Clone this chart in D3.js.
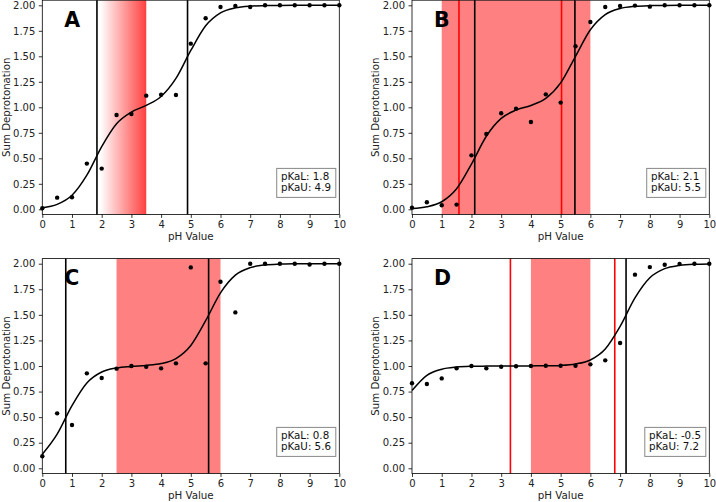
<!DOCTYPE html>
<html>
<head>
<meta charset="utf-8">
<script src="https://cdn.jsdelivr.net/npm/d3@7"></script>
<style>
  html, body { margin: 0; padding: 0; background: #fff; }
  svg { display: block; font-family: "DejaVu Sans", sans-serif; }
</style>
</head>
<body>
<svg id="chart" width="716" height="502"></svg>
<script>
// ---------- data ----------
const pH = [0, 0.5, 1, 1.5, 2, 2.5, 3, 3.5, 4, 4.5, 5, 5.5, 6, 6.5, 7, 7.5, 8, 8.5, 9, 9.5, 10];
const xTicks = [0, 1, 2, 3, 4, 5, 6, 7, 8, 9, 10];
const yTicks = [0, 0.25, 0.5, 0.75, 1.0, 1.25, 1.5, 1.75, 2.0];

const panelLabels = ["A", "B", "C", "D"];

// measured points (Sum Deprotonation)
const pointsA = [0.01, 0.114, 0.118, 0.448, 0.399, 0.925, 0.935, 1.114, 1.124, 1.121, 1.624, 1.873, 1.984, 1.993, 1.984, 2.0, 2.0, 2.0, 2.0, 2.0, 2.0];
const pointsB = [0.016, 0.069, 0.039, 0.046, 0.529, 0.739, 0.941, 0.987, 0.856, 1.127, 1.046, 1.598, 1.837, 1.984, 1.993, 1.997, 1.987, 2.0, 2.0, 2.0, 2.0];
const pointsC = [0.117, 0.537, 0.423, 0.928, 0.883, 0.974, 1.0, 0.993, 0.977, 1.026, 1.964, 1.026, 1.824, 1.524, 2.0, 2.0, 2.0, 2.0, 1.993, 2.0, 2.0];
const pointsD = [0.831, 0.824, 0.879, 0.977, 1.0, 0.977, 0.993, 0.997, 1.0, 1.003, 1.003, 1.003, 1.016, 1.055, 1.225, 1.893, 1.967, 1.99, 1.997, 2.0, 2.0];

// fitted curves read at the same pH values
const fitA = [0.016, 0.048, 0.137, 0.334, 0.614, 0.838, 0.953, 1.019, 1.106, 1.283, 1.557, 1.799, 1.926, 1.975, 1.992, 1.997, 1.999, 2.0, 2.0, 2.0, 2.0];
const fitB = [0.008, 0.025, 0.074, 0.201, 0.443, 0.716, 0.891, 0.972, 1.018, 1.087, 1.239, 1.5, 1.76, 1.909, 1.969, 1.99, 1.997, 1.999, 2.0, 2.0, 2.0];
const fitC = [0.137, 0.334, 0.613, 0.834, 0.941, 0.981, 0.996, 1.006, 1.024, 1.073, 1.201, 1.443, 1.715, 1.888, 1.962, 1.988, 1.996, 1.999, 2.0, 2.0, 2.0];
const fitD = [0.76, 0.909, 0.969, 0.99, 0.997, 0.999, 1.0, 1.0, 1.001, 1.002, 1.006, 1.02, 1.059, 1.166, 1.387, 1.666, 1.863, 1.952, 1.984, 1.995, 1.998];

// fitted pKa (black lines) and rounded legend values
const pKaLines = [[1.84, 4.89], [2.11, 5.48], [0.79, 5.6], [7.2]];
const pKaLText = ["1.8", "2.1", "0.8", "-0.5"];
const pKaUText = ["4.9", "5.5", "5.6", "7.2"];
// reference (red) lines
const refLines = [[], [1.58, 5.03], [], [3.31, 6.82]];
// shaded ranges
const bands = [[1.95, 3.5], [1.0, 6.0], [2.5, 6.0], [4.0, 6.0]];

// ---------- layout ----------
const W = 716, H = 502;
const cols = [{ x0: 42.3, x1: 339.3 }, { x0: 412, x1: 709.3 }];
const rows = [{ t: 0.2, b: 214.4 }, { t: 258.6, b: 473.4 }];
const seriesPts = [pointsA, pointsB, pointsC, pointsD];
const seriesFit = [fitA, fitB, fitC, fitD];

const svg = d3.select("#chart");
const defs = svg.append("defs");
const grad = defs.append("linearGradient").attr("id", "redgrad")
  .attr("x1", "0%").attr("x2", "100%").attr("y1", "0%").attr("y2", "0%");
grad.append("stop").attr("offset", "0%").attr("stop-color", "#ff0000").attr("stop-opacity", 0);
grad.append("stop").attr("offset", "100%").attr("stop-color", "#ff0000").attr("stop-opacity", 0.75);

panelLabels.forEach((lab, i) => {
  const c = cols[i % 2], r = rows[Math.floor(i / 2)];
  const x = d3.scaleLinear().domain([0, 10]).range([c.x0, c.x1]);
  const y = d3.scaleLinear().domain([-0.05, 2.05]).range([r.b, r.t]);
  const g = svg.append("g");

  // shaded band
  const bd = bands[i];
  g.append("rect")
    .attr("x", x(bd[0])).attr("width", x(bd[1]) - x(bd[0]))
    .attr("y", r.t).attr("height", r.b - r.t)
    .attr("fill", i === 0 ? "url(#redgrad)" : "#ff8080");

  // red reference lines
  refLines[i].forEach(v => {
    g.append("line").attr("x1", x(v)).attr("x2", x(v)).attr("y1", r.t).attr("y2", r.b)
      .attr("stroke", "#ff0000").attr("stroke-width", 1.6);
  });
  // black pKa lines
  pKaLines[i].forEach(v => {
    g.append("line").attr("x1", x(v)).attr("x2", x(v)).attr("y1", r.t).attr("y2", r.b)
      .attr("stroke", "#000").attr("stroke-width", 1.6);
  });

  // fitted curve
  const line = d3.line().x((d, k) => x(pH[k])).y(d => y(d)).curve(d3.curveMonotoneX);
  g.append("path").datum(seriesFit[i]).attr("d", line)
    .attr("fill", "none").attr("stroke", "#000").attr("stroke-width", 1.5);

  // points
  g.selectAll("circle.pt").data(seriesPts[i]).enter().append("circle")
    .attr("class", "pt")
    .attr("cx", (d, k) => x(pH[k])).attr("cy", d => y(d)).attr("r", 2.2)
    .attr("fill", "#000");

  // axes
  const xa = g.append("g").attr("transform", `translate(0,${r.b})`)
    .call(d3.axisBottom(x).tickValues(xTicks).tickFormat(d3.format("d")).tickSize(3.5).tickPadding(2.8));
  const ya = g.append("g").attr("transform", `translate(${c.x0},0)`)
    .call(d3.axisLeft(y).tickValues(yTicks).tickFormat(d3.format(".2f")).tickSize(3.5).tickPadding(3.5));
  [xa, ya].forEach(a => {
    a.select(".domain").remove();
    a.selectAll("text").attr("font-size", 10).attr("fill", "#222")
      .attr("font-family", "DejaVu Sans, sans-serif");
    a.selectAll("line").attr("stroke", "#000").attr("stroke-width", 0.8);
  });

  // spines
  g.append("rect").attr("x", c.x0).attr("y", r.t).attr("width", c.x1 - c.x0).attr("height", r.b - r.t)
    .attr("fill", "none").attr("stroke", "#000").attr("stroke-width", 0.8);

  // axis titles
  g.append("text").attr("x", (c.x0 + c.x1) / 2).attr("y", r.b + 25.6)
    .attr("text-anchor", "middle").attr("font-size", 10.3).attr("fill", "#222").text("pH Value");
  g.append("text")
    .attr("transform", `translate(${c.x0 - 32.6},${(r.t + r.b) / 2}) rotate(-90)`)
    .attr("text-anchor", "middle").attr("font-size", 10.2).attr("fill", "#222").text("Sum Deprotonation");

  // panel label
  g.append("text").attr("x", c.x0 + 22).attr("y", r.t + 26.5)
    .attr("font-size", 20.5).attr("font-weight", "bold").attr("fill", "#000").text(lab);

  // legend box
  const lg = g.append("g");
  const t1 = lg.append("text").attr("font-size", 10.3).attr("fill", "#111").text("pKaL: " + pKaLText[i]);
  const t2 = lg.append("text").attr("font-size", 10.3).attr("fill", "#111").text("pKaU: " + pKaUText[i]);
  const tw = Math.max(t1.node().getComputedTextLength(), t2.node().getComputedTextLength());
  const bw = tw + 9, bh = 29;
  const bx = c.x1 - 3.5 - bw, by = r.b - 17 - bh;
  lg.insert("rect", "text").attr("x", bx).attr("y", by).attr("width", bw).attr("height", bh)
    .attr("fill", "#fff").attr("stroke", "#888").attr("stroke-width", 1);
  t1.attr("x", bx + 4.2).attr("y", by + 11.2);
  t2.attr("x", bx + 4.2).attr("y", by + 22.8);
});
</script>
</body>
</html>
